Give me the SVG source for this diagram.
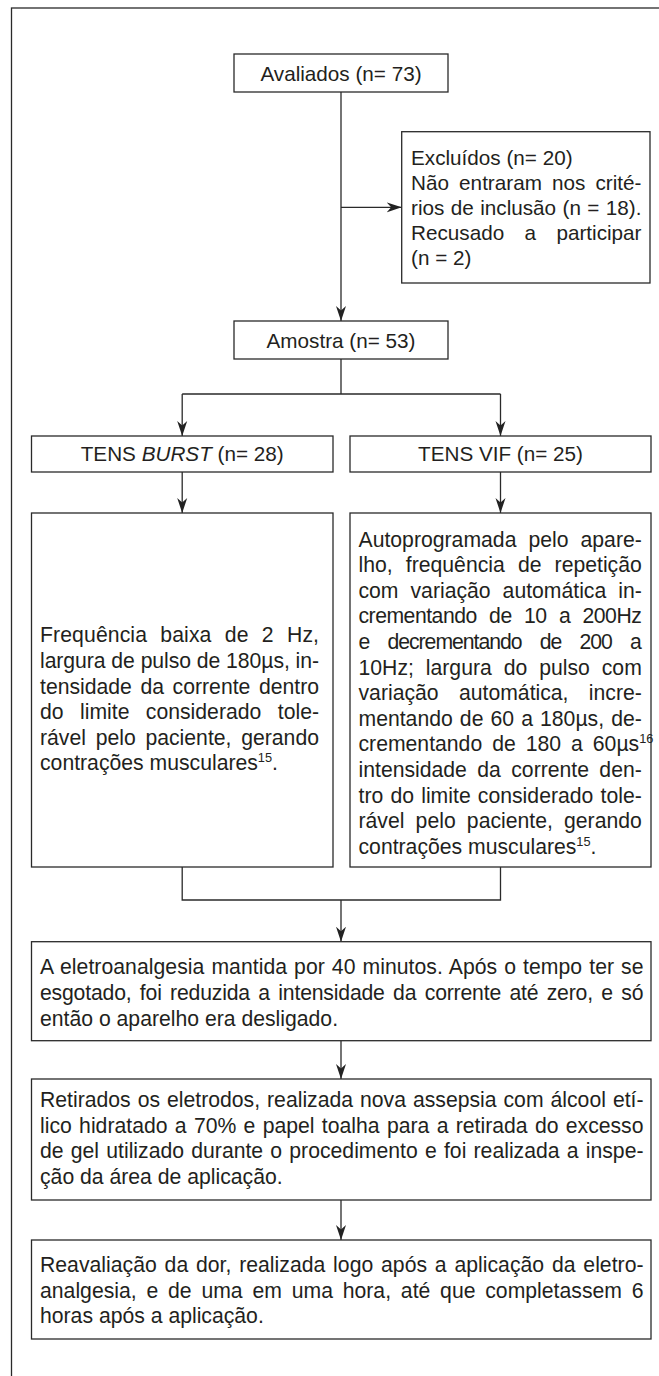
<svg xmlns="http://www.w3.org/2000/svg" width="659" height="1376" viewBox="0 0 659 1376">
<style>
.box{fill:#fff;stroke:#2a2a2a;stroke-width:1.3}
.ln{fill:none;stroke:#2a2a2a;stroke-width:1.3}
.t{font-family:"Liberation Sans",Arial,Helvetica,sans-serif;font-size:20.7px;fill:#231f20}
.p{font-size:21.2px}
.c{text-anchor:middle}
.sup{font-size:12.8px}
</style>
<defs>
<marker id="arr" markerUnits="userSpaceOnUse" markerWidth="15" markerHeight="11" viewBox="0 0 15 11" refX="15" refY="5.5" orient="auto">
<path d="M0,0.5 L15,5.5 L0,10.5 L4.5,5.5 Z" fill="#222"/>
</marker>
</defs>
<rect width="659" height="1376" fill="#fff"/>
<rect id="frame" x="11.5" y="8" width="700" height="1400" class="ln"/>

<g id="connectors">
<path class="ln" d="M341,92 V321" marker-end="url(#arr)"/>
<path class="ln" d="M341,207.3 H401.7" marker-end="url(#arr)"/>
<path class="ln" d="M341,359 V394 M182.2,394 H500.5"/>
<path class="ln" d="M182.2,394 V436" marker-end="url(#arr)"/>
<path class="ln" d="M500.5,394 V436" marker-end="url(#arr)"/>
<path class="ln" d="M182.2,472 V513" marker-end="url(#arr)"/>
<path class="ln" d="M500.5,472 V513" marker-end="url(#arr)"/>
<path class="ln" d="M182.2,867 V900 H500.5 V867"/>
<path class="ln" d="M341,900 V941.7" marker-end="url(#arr)"/>
<path class="ln" d="M341,1040.7 V1079" marker-end="url(#arr)"/>
<path class="ln" d="M341,1200 V1240" marker-end="url(#arr)"/>
</g>

<g id="avaliados">
<rect class="box" x="234" y="54" width="214" height="38"/>
<text class="t c" x="341" y="80.5">Avaliados (n= 73)</text>
</g>

<g id="excluidos">
<rect class="box" x="401.7" y="131.7" width="248.3" height="151.3"/>
<text class="t" x="411" y="165">Excluídos (n= 20)</text>
<text class="t" x="411" y="190" word-spacing="4.4" textLength="230.5" lengthAdjust="spacing">Não entraram nos crité-</text>
<text class="t" x="411" y="215" word-spacing="0.7" textLength="230.5" lengthAdjust="spacing">rios de inclusão (n = 18).</text>
<text class="t" x="411" y="240" word-spacing="14.6" textLength="230.5" lengthAdjust="spacing">Recusado a participar</text>
<text class="t" x="411" y="265">(n = 2)</text>
</g>

<g id="amostra">
<rect class="box" x="234" y="321" width="214" height="38"/>
<text class="t c" x="341" y="347.5">Amostra (n= 53)</text>
</g>

<g id="tens-burst">
<rect class="box" x="31.5" y="436" width="301.5" height="36"/>
<text class="t c" x="182.2" y="461">TENS <tspan font-style="italic">BURST</tspan> (n= 28)</text>
</g>

<g id="tens-vif">
<rect class="box" x="350" y="436" width="301" height="36"/>
<text class="t c" x="500.5" y="461">TENS VIF (n= 25)</text>
</g>

<g id="burst-params">
<rect class="box" x="31.5" y="513" width="301.5" height="354"/>
<text class="t p" x="40" y="642.4" word-spacing="7.3" textLength="279" lengthAdjust="spacing">Frequência baixa de 2 Hz,</text>
<text class="t p" x="40" y="668" textLength="279" lengthAdjust="spacing">largura de pulso de 180µs, in-</text>
<text class="t p" x="40" y="693.6" word-spacing="2.7" textLength="279" lengthAdjust="spacing">tensidade da corrente dentro</text>
<text class="t p" x="40" y="719.2" word-spacing="10.5" textLength="279" lengthAdjust="spacing">do limite considerado tole-</text>
<text class="t p" x="40" y="744.8" word-spacing="3.8" textLength="279" lengthAdjust="spacing">rável pelo paciente, gerando</text>
<text class="t p" x="40" y="770.4">contrações musculares<tspan class="sup" dy="-8">15</tspan><tspan dy="8">.</tspan></text>
</g>

<g id="vif-params">
<rect class="box" x="350" y="513" width="301" height="354"/>
<text class="t p" x="358.5" y="546.5" word-spacing="6.1" textLength="283.3" lengthAdjust="spacing">Autoprogramada pelo apare-</text>
<text class="t p" x="358.5" y="572.1" word-spacing="7.2" textLength="283.3" lengthAdjust="spacing">lho, frequência de repetição</text>
<text class="t p" x="358.5" y="597.7" word-spacing="6.1" textLength="283.3" lengthAdjust="spacing">com variação automática in-</text>
<text class="t p" x="358.5" y="623.3" word-spacing="6.9" textLength="283.3" lengthAdjust="spacing">crementando de 10 a 200Hz</text>
<text class="t p" x="358.5" y="648.9" word-spacing="13.4" textLength="283.3" lengthAdjust="spacing">e decrementando de 200 a</text>
<text class="t p" x="358.5" y="674.5" word-spacing="6" textLength="283.3" lengthAdjust="spacing">10Hz; largura do pulso com</text>
<text class="t p" x="358.5" y="700.1" word-spacing="14.4" textLength="283.3" lengthAdjust="spacing">variação automática, incre-</text>
<text class="t p" x="358.5" y="725.7" word-spacing="1.2" textLength="283.3" lengthAdjust="spacing">mentando de 60 a 180µs, de-</text>
<text class="t p" x="358.5" y="751.3" word-spacing="4.1">crementando de 180 a 60µs<tspan class="sup" dy="-8">16</tspan></text>
<text class="t p" x="358.5" y="776.9" word-spacing="4.5" textLength="283.3" lengthAdjust="spacing">intensidade da corrente den-</text>
<text class="t p" x="358.5" y="802.5" word-spacing="1.3" textLength="283.3" lengthAdjust="spacing">tro do limite considerado tole-</text>
<text class="t p" x="358.5" y="828.1" word-spacing="5.3" textLength="283.3" lengthAdjust="spacing">rável pelo paciente, gerando</text>
<text class="t p" x="358.5" y="853.7">contrações musculares<tspan class="sup" dy="-8">15</tspan><tspan dy="8">.</tspan></text>
</g>

<g id="eletroanalgesia">
<rect class="box" x="31.5" y="941.7" width="619.5" height="99"/>
<text class="t p" x="40" y="974" word-spacing="1.1" textLength="603.5" lengthAdjust="spacing">A eletroanalgesia mantida por 40 minutos. Após o tempo ter se</text>
<text class="t p" x="40" y="999.8" word-spacing="2.7" textLength="603.5" lengthAdjust="spacing">esgotado, foi reduzida a intensidade da corrente até zero, e só</text>
<text class="t p" x="40" y="1025.5">então o aparelho era desligado.</text>
</g>

<g id="retirados">
<rect class="box" x="31.5" y="1079" width="619.5" height="121"/>
<text class="t p" x="40" y="1107" word-spacing="1.1" textLength="603.5" lengthAdjust="spacing">Retirados os eletrodos, realizada nova assepsia com álcool etí-</text>
<text class="t p" x="40" y="1132.5" word-spacing="1.4" textLength="603.5" lengthAdjust="spacing">lico hidratado a 70% e papel toalha para a retirada do excesso</text>
<text class="t p" x="40" y="1158" word-spacing="1.3" textLength="603.5" lengthAdjust="spacing">de gel utilizado durante o procedimento e foi realizada a inspe-</text>
<text class="t p" x="40" y="1183.5">ção da área de aplicação.</text>
</g>

<g id="reavaliacao">
<rect class="box" x="31.5" y="1240" width="619.5" height="99"/>
<text class="t p" x="40" y="1272.3" word-spacing="1.9" textLength="603.5" lengthAdjust="spacing">Reavaliação da dor, realizada logo após a aplicação da eletro-</text>
<text class="t p" x="40" y="1297.8" word-spacing="3.9" textLength="603.5" lengthAdjust="spacing">analgesia, e de uma em uma hora, até que completassem 6</text>
<text class="t p" x="40" y="1323.3">horas após a aplicação.</text>
</g>
</svg>
